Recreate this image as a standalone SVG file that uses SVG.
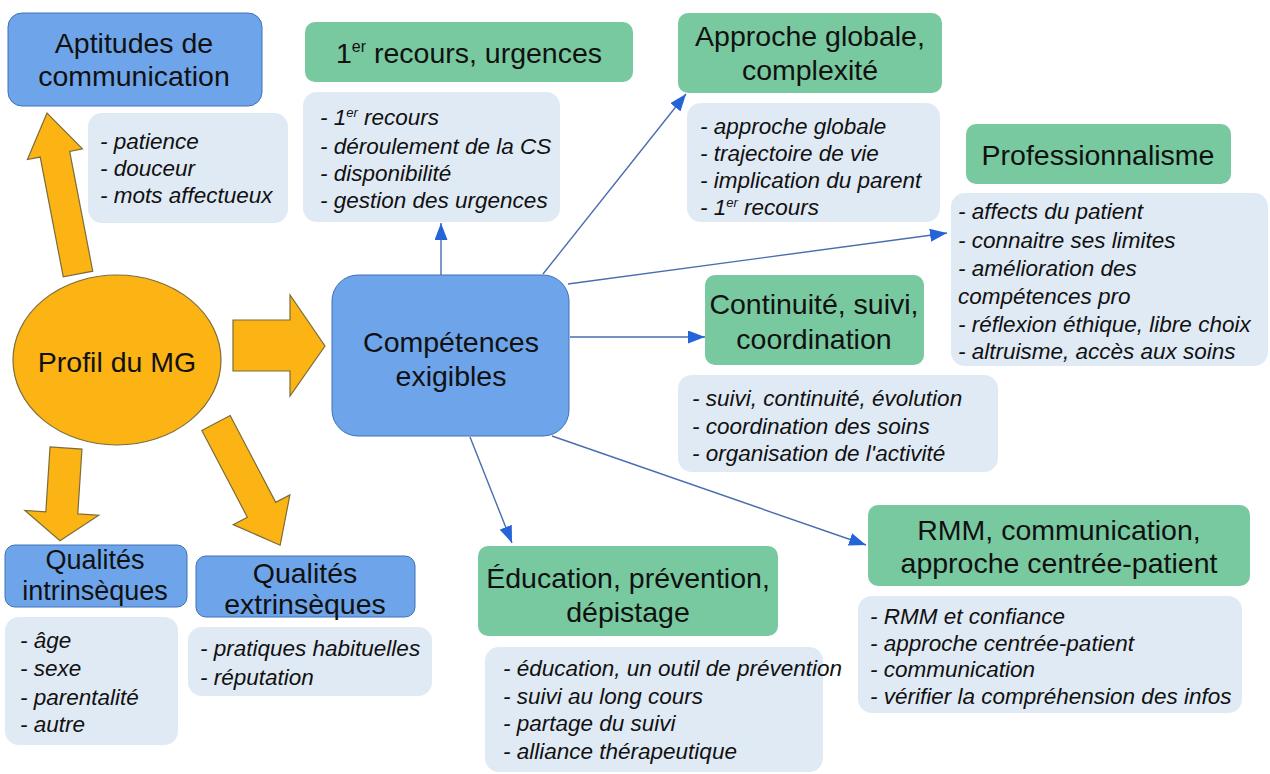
<svg xmlns="http://www.w3.org/2000/svg" width="1270" height="774" viewBox="0 0 1270 774">
<style>
.title{font-family:"Liberation Sans",Arial,sans-serif;font-size:28.5px;fill:#111;text-anchor:middle}
.det{font-family:"Liberation Sans",Arial,sans-serif;font-size:22.5px;font-style:italic;fill:#111}
.blue{fill:#6ea5ea;stroke:#3f70b8;stroke-width:1}
.green{fill:#78c9a0}
.detbox{fill:#e0eaf5}
.orange{fill:#fbb414;stroke:#7b6d3a;stroke-width:1.2}
.conn{stroke:#4a6db0;stroke-width:1.4;fill:none;marker-end:url(#ah)}
</style>
<defs>
<marker id="ah" viewBox="0 0 17 13" refX="17" refY="6.5" markerWidth="17" markerHeight="13" markerUnits="userSpaceOnUse" orient="auto">
<path d="M0,0 L17,6.5 L0,13 z" fill="#2563d8"/>
</marker>
</defs>
<rect width="1270" height="774" fill="#ffffff"/>

<g id="connectors">
<line class="conn" x1="441" y1="275" x2="441" y2="223"/>
<line class="conn" x1="543" y1="274" x2="686" y2="94"/>
<line class="conn" x1="568" y1="284" x2="947" y2="233"/>
<line class="conn" x1="570" y1="337" x2="705" y2="337"/>
<line class="conn" x1="470" y1="437" x2="512" y2="543"/>
<line class="conn" x1="552" y1="436" x2="866" y2="545"/>
</g>

<g id="block-arrows">
<path class="orange" transform="translate(78,274) rotate(-100.9)" d="M0,-15 L122,-15 L122,-28 L164,0 L122,28 L122,15 L0,15 z"/>
<path class="orange" d="M233,320 L290,320 L290,295 L325,346 L290,396 L290,371 L233,371 z"/>
<path class="orange" transform="translate(66,448) rotate(93.7)" d="M0,-16 L65,-16 L65,-37 L93,0 L65,37 L65,16 L0,16 z"/>
<path class="orange" transform="translate(216,423) rotate(62.3)" d="M0,-16 L98,-16 L98,-32 L138,0 L98,32 L98,16 L0,16 z"/>
</g>

<g id="aptitudes">
<rect class="blue" x="8" y="13" width="254" height="93" rx="14"/>
<text class="title" x="134" y="53">Aptitudes de</text>
<text class="title" x="134" y="86">communication</text>
</g>
<g id="aptitudes-details">
<rect class="detbox" x="88" y="113" width="200" height="110" rx="14"/>
<text class="det" x="100" y="149">- patience</text>
<text class="det" x="100" y="176">- douceur</text>
<text class="det" x="100" y="203">- mots affectueux</text>
</g>

<g id="premier-recours">
<rect class="green" x="305" y="22" width="328" height="60" rx="10"/>
<text class="title" x="469" y="63">1<tspan font-size="16" dy="-11">er</tspan><tspan dy="11"> recours, urgences</tspan></text>
</g>
<g id="premier-recours-details">
<rect class="detbox" x="303" y="92" width="257" height="130" rx="14"/>
<text class="det" x="320" y="125">- 1<tspan font-size="13" dy="-8">er</tspan><tspan dy="8"> recours</tspan></text>
<text class="det" x="320" y="154">- déroulement de la CS</text>
<text class="det" x="320" y="181">- disponibilité</text>
<text class="det" x="320" y="208">- gestion des urgences</text>
</g>

<g id="approche-globale">
<rect class="green" x="678" y="13" width="264" height="80" rx="10"/>
<text class="title" x="810" y="46">Approche globale,</text>
<text class="title" x="810" y="80">complexité</text>
</g>
<g id="approche-details">
<rect class="detbox" x="687" y="103" width="253" height="119" rx="14"/>
<text class="det" x="700" y="134">- approche globale</text>
<text class="det" x="700" y="161">- trajectoire de vie</text>
<text class="det" x="700" y="188">- implication du parent</text>
<text class="det" x="700" y="215">- 1<tspan font-size="13" dy="-8">er</tspan><tspan dy="8"> recours</tspan></text>
</g>

<g id="professionnalisme">
<rect class="green" x="966" y="124" width="265" height="60" rx="10"/>
<text class="title" x="1098" y="165">Professionnalisme</text>
</g>
<g id="professionnalisme-details">
<rect class="detbox" x="951" y="193" width="317" height="173" rx="14"/>
<text class="det" x="958" y="219">- affects du patient</text>
<text class="det" x="958" y="248">- connaitre ses limites</text>
<text class="det" x="958" y="276">- amélioration des</text>
<text class="det" x="958" y="304">compétences pro</text>
<text class="det" x="958" y="332">- réflexion éthique, libre choix</text>
<text class="det" x="958" y="359">- altruisme, accès aux soins</text>
</g>

<g id="continuite">
<rect class="green" x="705" y="275" width="219" height="90" rx="10"/>
<text class="title" x="814" y="314">Continuité, suivi,</text>
<text class="title" x="814" y="349">coordination</text>
</g>
<g id="continuite-details">
<rect class="detbox" x="678" y="375" width="320" height="97" rx="14"/>
<text class="det" x="692" y="406">- suivi, continuité, évolution</text>
<text class="det" x="692" y="434">- coordination des soins</text>
<text class="det" x="692" y="461">- organisation de l'activité</text>
</g>

<g id="competences">
<rect class="blue" x="332" y="275" width="237" height="161" rx="26"/>
<text class="title" x="451" y="352">Compétences</text>
<text class="title" x="451" y="386">exigibles</text>
</g>

<g id="profil">
<ellipse class="orange" cx="117" cy="360" rx="104" ry="85"/>
<text class="title" x="117" y="372">Profil du MG</text>
</g>

<g id="intrinseques">
<rect class="blue" x="5" y="545" width="182" height="62" rx="10"/>
<text class="title" x="95" y="569" style="font-size:27px">Qualités</text>
<text class="title" x="95" y="600" style="font-size:27px">intrinsèques</text>
</g>
<g id="intrinseques-details">
<rect class="detbox" x="5" y="617" width="173" height="128" rx="14"/>
<text class="det" x="20" y="648">- âge</text>
<text class="det" x="20" y="676">- sexe</text>
<text class="det" x="20" y="705">- parentalité</text>
<text class="det" x="20" y="732">- autre</text>
</g>

<g id="extrinseques">
<rect class="blue" x="196" y="556" width="219" height="61" rx="10"/>
<text class="title" x="305" y="583">Qualités</text>
<text class="title" x="305" y="614">extrinsèques</text>
</g>
<g id="extrinseques-details">
<rect class="detbox" x="188" y="627" width="244" height="69" rx="14"/>
<text class="det" x="200" y="656">- pratiques habituelles</text>
<text class="det" x="200" y="685">- réputation</text>
</g>

<g id="education">
<rect class="green" x="478" y="546" width="300" height="90" rx="10"/>
<text class="title" x="628" y="588">Éducation, prévention,</text>
<text class="title" x="628" y="622">dépistage</text>
</g>
<g id="education-details">
<rect class="detbox" x="485" y="647" width="338" height="125" rx="14"/>
<text class="det" x="503" y="676">- éducation, un outil de prévention</text>
<text class="det" x="503" y="704">- suivi au long cours</text>
<text class="det" x="503" y="731">- partage du suivi</text>
<text class="det" x="503" y="759">- alliance thérapeutique</text>
</g>

<g id="rmm">
<rect class="green" x="868" y="505" width="382" height="81" rx="10"/>
<text class="title" x="1059" y="540">RMM, communication,</text>
<text class="title" x="1059" y="573">approche centrée-patient</text>
</g>
<g id="rmm-details">
<rect class="detbox" x="858" y="596" width="384" height="117" rx="14"/>
<text class="det" x="870" y="624">- RMM et confiance</text>
<text class="det" x="870" y="651">- approche centrée-patient</text>
<text class="det" x="870" y="677">- communication</text>
<text class="det" x="870" y="704">- vérifier la compréhension des infos</text>
</g>
</svg>
